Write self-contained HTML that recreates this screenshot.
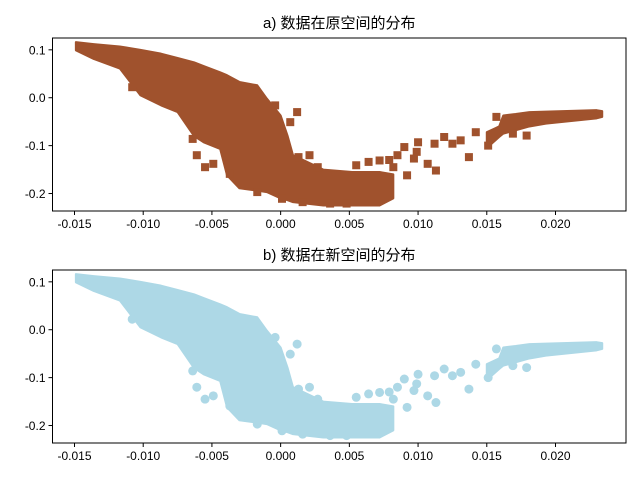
<!DOCTYPE html>
<html><head><meta charset="utf-8"><style>
body{margin:0;background:#fff}
svg text{font-family:"Liberation Sans","WenQuanYi Zen Hei",sans-serif;fill:#000}
</style></head><body>
<svg id="chart" width="640" height="480" viewBox="0 0 640 480"></svg>
<script>
// Dense body envelope (data units)
const leftEnvX   = [-0.0149,-0.0136,-0.0117,-0.0102,-0.0087,-0.0075,-0.0063,-0.0056,-0.0044,-0.0039,-0.0030,-0.0017,-0.0010,0.0000,0.0005,0.0009,0.0031,0.0052,0.0072,0.0082];
const leftEnvTop = [0.116,0.112,0.107,0.100,0.092,0.083,0.074,0.066,0.053,0.047,0.033,0.026,-0.002,-0.037,-0.079,-0.120,-0.150,-0.155,-0.155,-0.160];
const leftEnvBot = [0.099,0.081,0.061,0.005,-0.016,-0.030,-0.080,-0.093,-0.107,-0.162,-0.189,-0.194,-0.197,-0.210,-0.214,-0.218,-0.225,-0.225,-0.225,-0.210];
const rightEnvX   = [0.0150,0.0159,0.0162,0.0171,0.0181,0.0193,0.0230,0.0234];
const rightEnvTop = [-0.072,-0.060,-0.037,-0.034,-0.030,-0.029,-0.026,-0.028];
const rightEnvBot = [-0.105,-0.082,-0.075,-0.068,-0.060,-0.054,-0.043,-0.040];
// Scattered outliers
const outX = [0.0055,0.0064,0.0072,0.0079,0.0085,0.0090,0.0092,0.0100,0.0097,0.0107,0.0113,0.0112,0.0119,0.0125,0.0131,0.0137,0.0142,0.0151,0.0157,0.0169,0.0179,0.0099,0.0082,-0.0108,-0.0064,-0.0061,-0.0055,-0.0049,-0.0004,0.0012,0.0007,0.0013,0.0021,0.0027,-0.0037,-0.0017,0.0001,0.0016,0.0036,0.0048];
const outY = [-0.141,-0.134,-0.131,-0.130,-0.120,-0.103,-0.162,-0.093,-0.127,-0.138,-0.152,-0.096,-0.082,-0.096,-0.089,-0.124,-0.072,-0.100,-0.040,-0.075,-0.079,-0.113,-0.145,0.022,-0.086,-0.120,-0.145,-0.138,-0.016,-0.030,-0.051,-0.124,-0.120,-0.145,-0.159,-0.197,-0.211,-0.218,-0.221,-0.221];
const xTicks = [-0.015,-0.010,-0.005,0.000,0.005,0.010,0.015,0.020];
const yTicks = [0.1,0.0,-0.1,-0.2];
const panels = [
  {title:"a) 数据在原空间的分布", top:38, color:"#a0522d", marker:"square", name:"original-space"},
  {title:"b) 数据在新空间的分布", top:270, color:"#add8e6", marker:"circle", name:"new-space"}
];
const NS="http://www.w3.org/2000/svg";
const svg=document.getElementById('chart');
const L=52.5,R=626,H=173;
const xMin=-0.0166,xMax=0.02513,yMin=-0.2365,yMax=0.1247;
function mk(t,a,p){const e=document.createElementNS(NS,t);for(const k in a)e.setAttribute(k,a[k]);(p||svg).appendChild(e);return e;}
panels.forEach(p=>{
  const g=mk('g',{});
  
  
  const xs=v=>L+(v-xMin)/(xMax-xMin)*(R-L);
  const ys=v=>p.top+(yMax-v)/(yMax-yMin)*H;
  function band(ex,et,eb,nm){
    const pts=ex.map((x,i)=>xs(x)+','+ys(et[i])).concat(ex.map((x,i)=>xs(x)+','+ys(eb[i])).reverse());
    const pl=mk('polygon',{points:pts.join(' '),fill:p.color,stroke:p.color,'stroke-width':2,'stroke-linejoin':'round'},g);
    
    
  }
  band(leftEnvX,leftEnvTop,leftEnvBot,'dense-cluster-left');
  band(rightEnvX,rightEnvTop,rightEnvBot,'dense-cluster-right');
  outX.forEach((x,i)=>{
    let m;
    if(p.marker==='square') m=mk('rect',{x:xs(x)-4,y:ys(outY[i])-4,width:8,height:8,fill:p.color},g);
    else m=mk('circle',{cx:xs(x),cy:ys(outY[i]),r:4.5,fill:p.color},g);
    
    
  });
  const fr=mk('rect',{x:L,y:p.top,width:R-L,height:H,fill:'none',stroke:'#000','stroke-width':1},g);
  
  
  xTicks.forEach(t=>{
    const x=xs(t);
    mk('line',{x1:x,x2:x,y1:p.top+H,y2:p.top+H+4,stroke:'#000'},g);
    const tx=mk('text',{x:x,y:p.top+H+17,'text-anchor':'middle','font-size':12},g);
    tx.textContent=t.toFixed(3);
    
    
  });
  yTicks.forEach(t=>{
    const y=ys(t);
    mk('line',{x1:L-4,x2:L,y1:y,y2:y,stroke:'#000'},g);
    const tx=mk('text',{x:L-7,y:y+4.5,'text-anchor':'end','font-size':12},g);
    tx.textContent=t.toFixed(1);
    
    
  });
  const ti=mk('text',{x:(L+R)/2,y:p.top-10,'text-anchor':'middle','font-size':15},g);
  ti.textContent=p.title;
  
  
});
</script>
</body></html>
